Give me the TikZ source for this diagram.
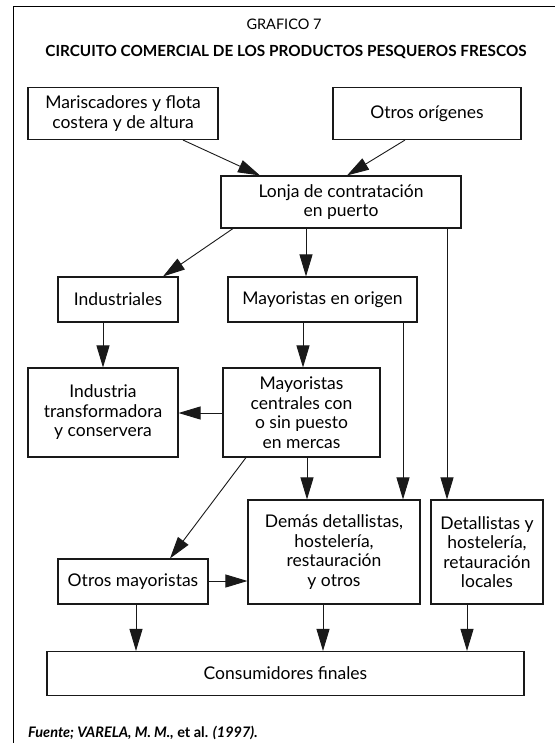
\documentclass[tikz,border=0pt]{standalone}
\usepackage{fontspec}
\setmainfont{Lato}
\usetikzlibrary{arrows.meta,calc}
\begin{document}
\begin{tikzpicture}[x=1pt,y=-1pt,
  box/.style={draw=black!90, line width=1.1pt, rectangle, inner sep=0pt, align=center,
    font=\fontsize{17.5}{19.5}\selectfont},
  arr/.style={draw=black!90, line width=0.9pt, -{Triangle[length=22pt,width=13pt]}},
  ln/.style={draw=black!90, line width=0.9pt}]
\useasboundingbox (0,0) rectangle (555,743);
\fill[white] (0,0) rectangle (555,743);
\draw[line width=1pt] (13,743) -- (13,7) -- (555,7);
\node (gr) at (284,24) {\fontsize{14.5}{16}\selectfont GRAFICO 7};
\node (tit) at (286,52) {\fontsize{15.3}{17}\selectfont\bfseries CIRCUITO COMERCIAL DE LOS PRODUCTOS PESQUEROS FRESCOS};
\node[box, minimum width=190pt, minimum height=52pt] (maris) at (123,113.5) {Mariscadores y flota\\costera y de altura};
\node[box, minimum width=188pt, minimum height=52pt] (otros) at (427,113.5) {Otros orígenes};
\node[box, minimum width=240pt, minimum height=52pt] (lonja) at (341,202) {Lonja de contratación\\en puerto};
\node[box, minimum width=120pt, minimum height=45pt] (indus) at (118,299.5) {Industriales};
\node[box, minimum width=189pt, minimum height=45pt] (origen) at (322.5,299.5) {Mayoristas en origen};
\node[box, minimum width=150pt, minimum height=89pt] (indtr) at (103,412.5) {Industria\\transformadora\\y conservera};
\node[box, minimum width=157pt, minimum height=89pt] (centr) at (301.5,412.5) {Mayoristas\\centrales con\\o sin puesto\\en mercas};
\node[box, minimum width=150pt, minimum height=45pt] (otmay) at (133,581.5) {Otros mayoristas};
\node[box, minimum width=172pt, minimum height=104pt] (demas) at (334,552) {Demás detallistas,\\hostelería,\\restauración\\y otros};
\node[box, minimum width=112pt, minimum height=104pt] (detal) at (487,552) {Detallistas y\\hostelería,\\retauración\\locales};
\node[box, minimum width=477pt, minimum height=44pt] (cons) at (285.5,673.5) {Consumidores finales};
\node[anchor=west, inner sep=0pt] (src) at (28,733) {\fontsize{14.5}{16}\selectfont\bfseries\itshape Fuente; VARELA, M. M.,\upshape{} et al. \itshape(1997).};
% connectors
\draw[arr] (maris.south -| 183,0) -- (lonja.north -| 260,0);
\draw[arr] (otros.south -| 405,0) -- (lonja.north -| 347,0);
\draw[arr] (lonja.south -| 233,0) -- (indus.north -| 163,0);
\draw[arr] (lonja.south -| 306,0) -- (origen.north -| 306,0);
\draw[arr] (lonja.south -| 447,0) -- (detal.north -| 447,0);
\draw[arr] (origen.south -| 303,0) -- (centr.north -| 303,0);
\draw[arr] (origen.south -| 403,0) -- (demas.north -| 403,0);
\draw[arr] (indus.south -| 103,0) -- (indtr.north -| 103,0);
\draw[arr] (centr.west |- 0,413) -- (indtr.east |- 0,413);
\draw[arr] (centr.south -| 246,0) -- (otmay.north -| 170,0);
\draw[arr] (centr.south -| 307,0) -- (demas.north -| 307,0);
\draw[arr] (otmay.east |- 0,581) -- (demas.west |- 0,581);
\draw[arr] (otmay.south -| 136,0) -- (cons.north -| 136,0);
\draw[arr] (demas.south -| 323,0) -- (cons.north -| 323,0);
\draw[arr] (detal.south -| 467,0) -- (cons.north -| 467,0);
\end{tikzpicture}
\end{document}
